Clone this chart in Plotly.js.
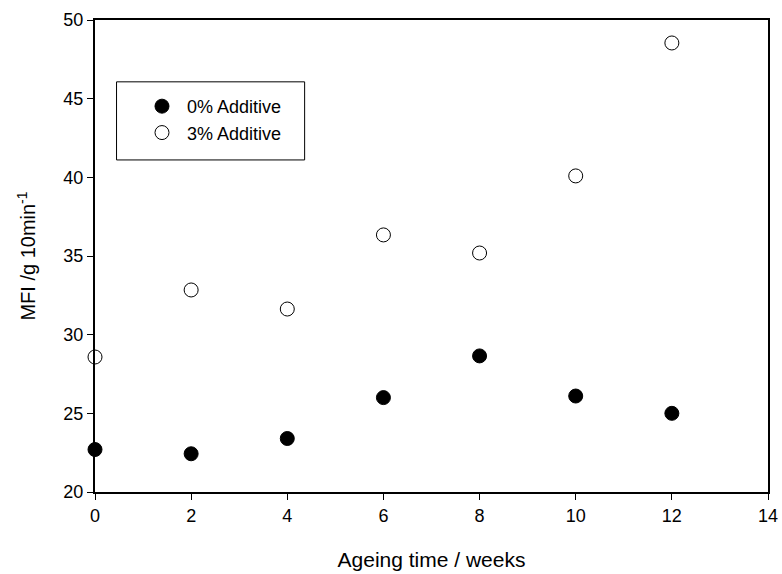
<!DOCTYPE html>
<html><head><meta charset="utf-8">
<script src="https://cdn.plot.ly/plotly-3.0.1.min.js"></script>
<style>html,body{margin:0;padding:0;background:#fff}</style>
</head><body>
<div id="chart" style="width:782px;height:574px"></div>
<script>
const weeks = [0, 2, 4, 6, 8, 10, 12];
const mfi0 = [22.7, 22.43, 23.4, 26.0, 28.65, 26.1, 25.0];
const mfi3 = [28.58, 32.84, 31.63, 36.34, 35.19, 40.09, 48.54];
const xTicks = [0, 2, 4, 6, 8, 10, 12, 14];
const yTicks = [20, 25, 30, 35, 40, 45, 50];

const font = 'Liberation Sans, Arial, sans-serif';
const traces = [
  {x: weeks, y: mfi0, type: 'scatter', mode: 'markers', name: '0% Additive',
   marker: {symbol: 'circle', size: 14, color: '#000', line: {color: '#000', width: 1}}, cliponaxis: false},
  {x: weeks, y: mfi3, type: 'scatter', mode: 'markers', name: '3% Additive',
   marker: {symbol: 'circle', size: 14, color: '#fff', line: {color: '#000', width: 1}}, cliponaxis: false}
];
const layout = {
  width: 782, height: 574,
  margin: {l: 95, r: 14, t: 20, b: 82},
  paper_bgcolor: '#fff', plot_bgcolor: '#fff',
  font: {family: font, color: '#000', size: 18},
  showlegend: true,
  legend: {x: 0.0624, y: 0.856, xanchor: 'left', yanchor: 'top', bgcolor: 'rgba(0,0,0,0)', borderwidth: 0,
           font: {size: 18, family: font}, itemwidth: 40, itemsizing: 'trace'},
  shapes: [{type: 'rect', xref: 'paper', yref: 'paper', x0: 0.032, x1: 0.3115, y0: 0.7035, y1: 0.869,
            line: {color: '#000', width: 1}, fillcolor: 'rgba(0,0,0,0)'}],
  xaxis: {range: [0, 14], tickvals: xTicks, ticks: 'outside', ticklen: 6, tickwidth: 1, tickcolor: '#000',
          showline: true, linecolor: '#000', linewidth: 2, mirror: true, showgrid: false, zeroline: false,
          tickfont: {size: 18}, automargin: false,
          title: {text: 'Ageing time / weeks', font: {size: 21}, standoff: 28}},
  yaxis: {range: [20, 50], tickvals: yTicks, ticks: 'outside', ticklen: 6, tickwidth: 1, tickcolor: '#000',
          showline: true, linecolor: '#000', linewidth: 2, mirror: true, showgrid: false, zeroline: false,
          tickfont: {size: 18}, automargin: false,
          title: {text: 'MFI /g 10min<sup>-1</sup>', font: {size: 20}, standoff: 22}}
};
Plotly.newPlot('chart', traces, layout, {displayModeBar: false});
</script>
</body></html>
